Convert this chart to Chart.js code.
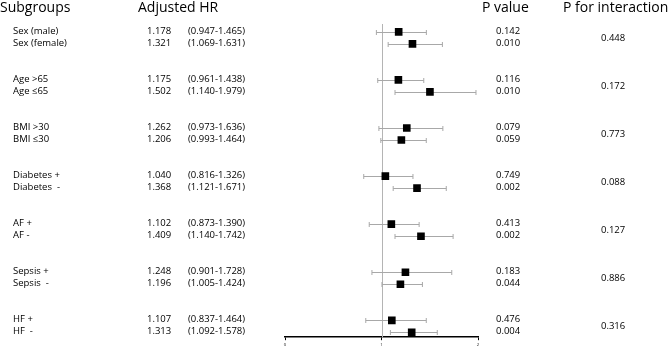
<!DOCTYPE html>
<html>
<head>
<meta charset="utf-8">
<script src="https://cdn.jsdelivr.net/npm/chart.js@4.4.1/dist/chart.umd.min.js"></script>
<style>
  html, body { margin: 0; padding: 0; background: #fff; }
  #wrap { width: 669px; height: 349px; }
</style>
</head>
<body>
<div id="wrap"><canvas id="forest"></canvas></div>
<script>
// subgroups, two rows per group
const subgroups = ['Sex (male)', 'Sex (female)', 'Age >65', 'Age \u226465', 'BMI >30', 'BMI \u226430',
    'Diabetes +', 'Diabetes  -', 'AF +', 'AF -', 'Sepsis +', 'Sepsis  -', 'HF +', 'HF  -'];
const hr = [1.178, 1.321, 1.175, 1.502, 1.262, 1.206, 1.040, 1.368, 1.102, 1.409, 1.248, 1.196, 1.107, 1.313];
const ciLow = [0.947, 1.069, 0.961, 1.140, 0.973, 0.993, 0.816, 1.121, 0.873, 1.140, 0.901, 1.005, 0.837, 1.092];
const ciHigh = [1.465, 1.631, 1.438, 1.979, 1.636, 1.464, 1.326, 1.671, 1.390, 1.742, 1.728, 1.424, 1.464, 1.578];
const pValues = ['0.142', '0.010', '0.116', '0.010', '0.079', '0.059', '0.749', '0.002', '0.413', '0.002', '0.183', '0.044', '0.476', '0.004'];
const pInteraction = ['0.448', '0.172', '0.773', '0.088', '0.127', '0.886', '0.316'];
const xTicks = [0, 1, 2];

// fila en el eje y: grupo * 4 + posicion dentro del grupo
const rowY = subgroups.map((s, i) => Math.floor(i / 2) * 4 + (i % 2));

const FONT = '"Open Sans", "Noto Sans", sans-serif';

const forestPlugin = {
    id: 'forest',
    beforeDatasetsDraw(chart) {
        const ctx = chart.ctx;
        const x = chart.scales.x, y = chart.scales.y;
        ctx.save();
        // linea de referencia HR = 1
        ctx.strokeStyle = '#b4b4b4';
        ctx.lineWidth = 1;
        ctx.beginPath();
        ctx.moveTo(Math.round(x.getPixelForValue(1)) + 0.5, chart.chartArea.top);
        ctx.lineTo(Math.round(x.getPixelForValue(1)) + 0.5, chart.chartArea.bottom);
        ctx.stroke();
        // intervalos de confianza
        ctx.strokeStyle = '#a8a8a8';
        subgroups.forEach((s, i) => {
            const py = Math.round(y.getPixelForValue(rowY[i])) + 0.5;
            const x1 = x.getPixelForValue(ciLow[i]);
            const x2 = x.getPixelForValue(ciHigh[i]);
            ctx.beginPath();
            ctx.moveTo(x1, py); ctx.lineTo(x2, py);
            ctx.moveTo(x1, py - 2.5); ctx.lineTo(x1, py + 2.5);
            ctx.moveTo(x2, py - 2.5); ctx.lineTo(x2, py + 2.5);
            ctx.stroke();
        });
        ctx.restore();
    },
    afterDraw(chart) {
        const ctx = chart.ctx;
        const y = chart.scales.y;
        ctx.save();
        ctx.fillStyle = '#000';
        ctx.textBaseline = 'middle';
        // encabezados
        ctx.font = '14px ' + FONT;
        ctx.fillText('Subgroups', 0, 8);
        ctx.fillText('Adjusted HR', 138, 8);
        ctx.fillText('P value', 482, 8);
        ctx.fillText('P for interaction', 563, 8);
        // columnas
        ctx.font = '9.5px ' + FONT;
        subgroups.forEach((s, i) => {
            const py = y.getPixelForValue(rowY[i]) - 1;
            ctx.fillText(s, 13, py);
            ctx.fillText(hr[i].toFixed(3), 147, py);
            ctx.fillText('(' + ciLow[i].toFixed(3) + '-' + ciHigh[i].toFixed(3) + ')', 188, py);
            ctx.fillText(pValues[i], 496, py);
        });
        pInteraction.forEach((p, g) => {
            const py = (y.getPixelForValue(rowY[g * 2]) + y.getPixelForValue(rowY[g * 2 + 1])) / 2;
            ctx.fillText(p, 601, py);
        });
        ctx.restore();
    }
};

const ctxF = document.getElementById('forest').getContext('2d');
const forestChart = new Chart(ctxF, {
    type: 'scatter',
    data: {
        datasets: [{
            data: hr.map((v, i) => ({ x: v, y: rowY[i] })),
            pointStyle: 'rect',
            pointRadius: 5.4,
            pointHoverRadius: 5.4,
            backgroundColor: '#000',
            borderColor: '#000',
            borderWidth: 0
        }]
    },
    options: {
        responsive: true,
        maintainAspectRatio: false,
        animation: false,
        events: [],
        layout: {
            padding: { left: 285, right: 191, top: 24, bottom: 0 }
        },
        scales: {
            x: {
                type: 'linear',
                min: 0,
                max: 2,
                afterBuildTicks: (axis) => { axis.ticks = xTicks.map(v => ({ value: v })); },
                grid: { display: true, drawOnChartArea: false, drawTicks: true, tickLength: 3, color: '#000' },
                border: { display: true, color: '#000', width: 1.5 },
                ticks: { color: '#000', font: { size: 4, family: FONT }, padding: 2 }
            },
            y: {
                type: 'linear',
                display: false,
                reverse: true,
                min: -0.65,
                max: 25.4
            }
        },
        plugins: {
            legend: { display: false },
            tooltip: { enabled: false }
        }
    },
    plugins: [forestPlugin]
});
</script>
</body>
</html>
